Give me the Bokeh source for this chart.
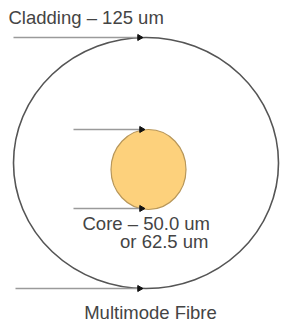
from bokeh.plotting import figure
from bokeh.models import Range1d
from bokeh.core.properties import value
from bokeh.embed import file_html
from bokeh.resources import INLINE

# Geometry of the diagram (pixel-like data units)
circle_names = ["cladding", "core"]
circle_cx = [145.5, 148.0]
circle_cy = [162.5, 169.0]
circle_w = [265.0, 75.0]
circle_h = [251.0, 80.0]

arrow_x0 = [13, 15, 73, 73]
arrow_x1 = [139, 139, 141, 141]
arrow_y = [37, 288, 129, 208]

labels = ["Cladding \u2013 125 um", "Core \u2013 50.0 um", "or 62.5 um", "Multimode Fibre"]
label_x = [8, 82, 208, 150]
label_y = [17, 222.5, 240.5, 312]
label_align = ["left", "left", "right", "center"]

p = figure(width=281, height=327, output_backend="svg", toolbar_location=None,
           x_range=Range1d(0, 281), y_range=Range1d(327, 0),
           min_border=0, outline_line_color=None)
p.axis.visible = False
p.grid.visible = False
p.background_fill_color = "white"

# Cladding
p.ellipse(x=[circle_cx[0]], y=[circle_cy[0]], width=[circle_w[0]], height=[circle_h[0]],
          fill_color=None, line_color="#555555", line_width=1.6)
# Core
p.ellipse(x=[circle_cx[1]], y=[circle_cy[1]], width=[circle_w[1]], height=[circle_h[1]],
          fill_color="#FDD17C", line_color="#B8975A", line_width=1.2)

# Arrow lines
p.segment(x0=arrow_x0, y0=arrow_y, x1=arrow_x1, y1=arrow_y,
          line_color="#9a9a9a", line_width=1.6)
p.scatter(x=arrow_x1, y=arrow_y, marker="triangle", size=6, angle=-1.5708,
          fill_color="#111111", line_color="#111111")

for t, x, y, a in zip(labels, label_x, label_y, label_align):
    p.text(x=[x], y=[y], text=[t], text_align=a, text_baseline="alphabetic",
           text_font=value("Liberation Sans"), text_font_size="18.5px",
           text_color="#444444")

open("out.html", "w").write(file_html(p, INLINE))
